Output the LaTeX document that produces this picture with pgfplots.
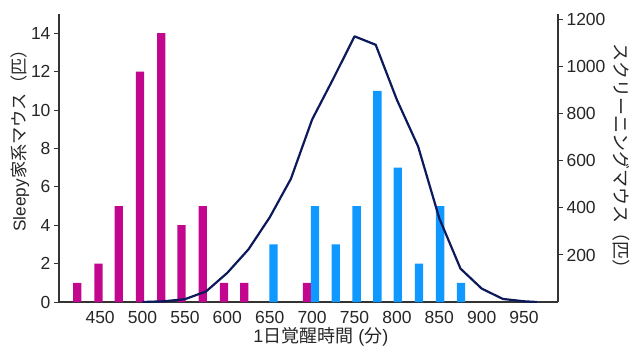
\documentclass[border=0pt]{standalone}
\usepackage{pgfplots}
\pgfplotsset{compat=1.18}
\usepackage{fontspec}
\setmainfont{Liberation Sans}
\newfontfamily\jp{Noto Sans CJK JP}
\definecolor{mag}{HTML}{C2078E}
\definecolor{sky}{HTML}{0F98FF}
\definecolor{navy}{HTML}{0C1A5B}
\definecolor{axgray}{HTML}{333333}
\pgfplotsset{
  common/.style={
    at={(0,0)}, anchor=south west,
    width=499pt, height=288pt, scale only axis,
    xmin=401.5, xmax=990,
    axis line style={axgray, line width=1.1pt, -},
    tick align=outside, major tick length=5pt,
    tick label style={font=\fontsize{17.5}{20}\selectfont, text=black!85},
    label style={font=\fontsize{18}{21}\selectfont, text=black!85},
    /pgf/number format/assume math mode=true,
    /pgf/number format/1000 sep={},
  }
}
\begin{document}
\begin{tikzpicture}
\path[use as bounding box] (-59pt,-47pt) rectangle (571pt,302pt);
\begin{axis}[common,
  ymin=0, ymax=15,
  axis x line*=bottom, axis y line*=left,
  xtick={450,500,...,950}, ytick={0,2,...,14},
  x tick style={draw=none}, y tick style={axgray, line width=1pt},
  xticklabel style={yshift=-1pt},
  xlabel={1{\jp 日覚醒時間} ({\jp 分})},
  xlabel style={at={(axis description cs:0.525,0)}, anchor=center, yshift=-35pt},
  ylabel={Sleepy{\jp 家系マウス（匹）}},
  ylabel style={font=\fontsize{17.2}{20}\selectfont, at={(axis description cs:-0.078,0.575)}, anchor=center},
]
\addplot[ybar, bar width=8.3pt, bar shift=0pt, fill=mag, draw=none] coordinates {
(423,1) (448,2) (472,5) (497,12) (522,14) (546,4) (571,5) (596,1) (620,1) (694,1)};
\addplot[ybar, bar width=8.3pt, bar shift=0pt, fill=sky, draw=none] coordinates {
(654.5,3) (703.5,5) (728,3) (752.5,5) (777,11) (801,7) (826,2) (851,5) (875.5,1)};
\end{axis}
\begin{axis}[common,
  ymin=0, ymax=1225,
  axis x line=none, axis y line*=right,
  ytick={200,400,...,1200},
  y tick style={axgray, line width=1pt},
  ylabel={{\jp スクリーニングマウス（匹）}},
  ylabel style={rotate=180, at={(axis description cs:1.127,0.49)}, anchor=center},
]
\addplot[navy, line width=2.2pt, line join=round] coordinates {
(500,0) (525,3) (550,12) (575,45) (600,124) (625,224) (650,360) (675,524)
(700,776) (725,950) (750,1130) (775,1094) (800,860) (825,662) (850,356)
(875,142) (900,57) (925,13) (950,3) (965,0)};
\end{axis}
\end{tikzpicture}
\end{document}
